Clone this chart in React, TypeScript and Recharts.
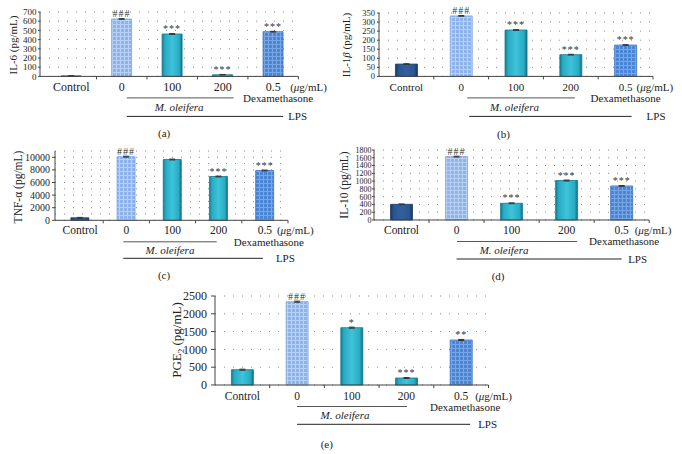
import React from "react";
import { BarChart, Bar, XAxis, YAxis, CartesianGrid, Cell, LabelList, ErrorBar } from "recharts";

const FONT = "'Liberation Serif', 'Times New Roman', serif";

const categories = ["Control", "0", "100", "200", "0.5"];

const il6Values = [5, 624, 461, 18, 486];
const il6Errors = [2, 4, 4, 3, 4];
const il6Marks = ["", "###", "***", "***", "***"];
const il6Ticks = [0, 100, 200, 300, 400, 500, 600, 700];

const il1bValues = [68, 334, 256, 120, 173];
const il1bErrors = [2, 2, 2, 2, 2];
const il1bMarks = ["", "###", "***", "***", "***"];
const il1bTicks = [0, 50, 100, 150, 200, 250, 300, 350];

const tnfValues = [400, 10100, 9650, 6950, 7900];
const tnfErrors = [60, 70, 70, 70, 70];
const tnfMarks = ["", "###", "", "***", "***"];
const tnfTicks = [0, 2000, 4000, 6000, 8000, 10000];
const tnfGrid = [0, 1000, 2000, 3000, 4000, 5000, 6000, 7000, 8000, 9000, 10000, 11000];

const il10Values = [403, 1630, 430, 1015, 875];
const il10Errors = [10, 10, 10, 12, 10];
const il10Marks = ["", "###", "***", "***", "***"];
const il10Ticks = [0, 200, 400, 600, 800, 1000, 1200, 1400, 1600, 1800];

const pge2Values = [430, 2340, 1610, 197, 1264];
const pge2Errors = [15, 15, 15, 12, 15];
const pge2Marks = ["", "###", "*", "***", "**"];
const pge2Ticks = [0, 500, 1000, 1500, 2000, 2500];

const fillsMain = ["navy", "light", "teal", "teal", "blue"];
const fillsPge2 = ["teal", "light", "teal", "teal", "blue"];

const strokes: Record<string, string> = {
  navy: "#1b3a66",
  light: "#7fa3dc",
  teal: "#137a8e",
  blue: "#3a70c0",
};

type Ann = {
  labelDy: number; l1y: number; l1from: number; l1to: number;
  dexDx: number; dexDy: number; moDx: number; moDy: number;
  lpsY: number; lpsFrom: number; lpsTo: number; lpsDx: number;
  unitDx: number; letDx: number; letDy: number;
};

type Panel = {
  id: string; letter: string; title: React.ReactNode;
  values: number[]; errors: number[]; marks: string[]; fills: string[];
  ticks: number[]; grid: number[]; max: number;
  axisX: number; padLeft: number; right: number; top: number; bottom: number;
  tickFont: number; tickSize: number; tickMargin: number; catFont: number;
  titleX: number; titleY: number; titleFont: number; ann: Ann;
};

const panels: Panel[] = [
  {
    id: "a", letter: "(a)", title: <>IL-6 (pg/mL)</>,
    values: il6Values, errors: il6Errors, marks: il6Marks, fills: fillsMain,
    ticks: il6Ticks, grid: il6Ticks, max: 700,
    axisX: 40, padLeft: 6, right: 298.4, top: 12.3, bottom: 76.7,
    tickFont: 9, tickSize: 2, tickMargin: 1.5, catFont: 12,
    titleX: 12.5, titleY: 44.5, titleFont: 11,
    ann: { labelDy: 10.5, l1y: 21.5, l1from: 5, l1to: 11, dexDx: 5, dexDy: 22, moDx: 7, moDy: 30.5, lpsY: 40, lpsFrom: 5, lpsTo: 10, lpsDx: 15, unitDx: 17, letDx: -8, letDy: 57 },
  },
  {
    id: "b", letter: "(b)", title: <>IL-1<i>β</i> (pg/mL)</>,
    values: il1bValues, errors: il1bErrors, marks: il1bMarks, fills: fillsMain,
    ticks: il1bTicks, grid: il1bTicks, max: 350,
    axisX: 378.5, padLeft: 0, right: 652.5, top: 13.3, bottom: 76.7,
    tickFont: 8.5, tickSize: 2, tickMargin: 2, catFont: 11,
    titleX: 345.5, titleY: 45, titleFont: 11,
    ann: { labelDy: 10.5, l1y: 21.5, l1from: 6, l1to: 4, dexDx: 0, dexDy: 21.5, moDx: -1.5, moDy: 31, lpsY: 40, lpsFrom: 8, lpsTo: 6, lpsDx: 21, unitDx: 11, letDx: -12.5, letDy: 58 },
  },
  {
    id: "c", letter: "(c)", title: <>TNF-α (pg/mL)</>,
    values: tnfValues, errors: tnfErrors, marks: tnfMarks, fills: fillsMain,
    ticks: tnfTicks, grid: tnfGrid, max: 11000,
    axisX: 55, padLeft: 2, right: 288, top: 151.2, bottom: 220.5,
    tickFont: 10, tickSize: 3, tickMargin: 2, catFont: 11.5,
    titleX: 19, titleY: 187, titleFont: 11.5,
    ann: { labelDy: 9.5, l1y: 21.5, l1from: -3, l1to: -2, dexDx: 4, dexDy: 22, moDx: -2.5, moDy: 30, lpsY: 38, lpsFrom: -3, lpsTo: -2, lpsDx: 11, unitDx: 12, letDx: -8.5, letDy: 55 },
  },
  {
    id: "d", letter: "(d)", title: <>IL-10 (pg/mL)</>,
    values: il10Values, errors: il10Errors, marks: il10Marks, fills: fillsMain,
    ticks: il10Ticks, grid: il10Ticks, max: 1800,
    axisX: 374.3, padLeft: 0, right: 649.5, top: 150, bottom: 220,
    tickFont: 8, tickSize: 2, tickMargin: 0.5, catFont: 11.5,
    titleX: 345, titleY: 185, titleFont: 11.5,
    ann: { labelDy: 10.5, l1y: 21.5, l1from: 0.5, l1to: 10.5, dexDx: 2.5, dexDy: 21.5, moDx: -7.5, moDy: 30, lpsY: 39, lpsFrom: 0, lpsTo: 0, lpsDx: 6.5, unitDx: 13, letDx: -13.5, letDy: 56.5 },
  },
  {
    id: "e", letter: "(e)", title: <>PGE<sub style={{ fontSize: "0.7em" }}>2</sub> (pg/mL)</>,
    values: pge2Values, errors: pge2Errors, marks: pge2Marks, fills: fillsPge2,
    ticks: pge2Ticks, grid: pge2Ticks, max: 2500,
    axisX: 215, padLeft: 0, right: 488.5, top: 296, bottom: 385,
    tickFont: 12, tickSize: 4, tickMargin: 4, catFont: 11.5,
    titleX: 178, titleY: 340, titleFont: 13,
    ann: { labelDy: 11, l1y: 21.5, l1from: 0, l1to: 0.5, dexDx: 4, dexDy: 21.5, moDx: -6.7, moDy: 30, lpsY: 39.3, lpsFrom: 0, lpsTo: 9, lpsDx: 17, unitDx: 14, letDx: -25, letDy: 59 },
  },
];

const Y_W = 40;
const M_TOP = 8;
const M_RIGHT = 40;
const X_H = 70;

function renderTick(props: any, p: Panel) {
  const { x, y, payload, index } = props;
  const band = (p.right - p.axisX - p.padLeft) / categories.length;
  const half = payload && payload.offset ? payload.offset : band / 2;
  const a = p.ann;
  const txt = { fontFamily: FONT, fill: "#222", dominantBaseline: "central" as const };
  const last = index === categories.length - 1;
  const x1 = x - 3 * band;
  const x2 = x - 2 * band;
  const x3 = x - band;
  return (
    <g style={{ fontFamily: FONT }}>
      <text x={x} y={y + a.labelDy} textAnchor="middle" fontSize={p.catFont} {...txt}>
        {payload.value}
      </text>
      {index > 0 && <line x1={x - half} x2={x - half} y1={y} y2={y + 3} stroke="#444" />}
      {last && (
        <g>
          <line x1={x + half} x2={x + half} y1={y} y2={y + 3} stroke="#444" />
          <text x={x + a.unitDx} y={y + a.labelDy} textAnchor="start" fontSize={11} {...txt}>
            (<tspan fontStyle="italic">μ</tspan>g/mL)
          </text>
          <line x1={x1 + a.l1from} x2={x3 + a.l1to} y1={y + a.l1y} y2={y + a.l1y} stroke="#555" />
          <text x={x + a.dexDx} y={y + a.dexDy} textAnchor="middle" fontSize={11} {...txt}>
            Dexamethasone
          </text>
          <text x={x2 + a.moDx} y={y + a.moDy} textAnchor="middle" fontSize={11} fontStyle="italic" {...txt}>
            M. oleifera
          </text>
          <line x1={x1 + a.lpsFrom} x2={x + a.lpsTo} y1={y + a.lpsY} y2={y + a.lpsY} stroke="#222" />
          <text x={x + a.lpsDx} y={y + a.lpsY} textAnchor="start" fontSize={11} {...txt}>
            LPS
          </text>
          <text x={x2 + a.letDx} y={y + a.letDy} textAnchor="middle" fontSize={11} {...txt}>
            {p.letter}
          </text>
        </g>
      )}
    </g>
  );
}

function PanelChart({ p }: { p: Panel }) {
  const left = p.axisX - Y_W;
  const topPx = p.top - M_TOP;
  const width = p.right - left + M_RIGHT;
  const height = p.bottom - topPx + X_H;
  const rows = categories.map((c, i) => ({
    cat: c,
    v: p.values[i],
    err: p.errors[i],
    mark: p.marks[i],
  }));
  const pid = (k: string) => `${p.id}-${k}`;
  return (
    <>
      <div style={{ position: "absolute", left, top: topPx }}>
        <BarChart
          width={width}
          height={height}
          data={rows}
          margin={{ top: M_TOP, right: M_RIGHT, bottom: 0, left: 0 }}
          barCategoryGap="30%"
        >
          <defs>
            <linearGradient id={pid("teal")} x1="0" y1="0" x2="1" y2="0">
              <stop offset="0" stopColor="#137c92" />
              <stop offset="0.14" stopColor="#29abc3" />
              <stop offset="0.5" stopColor="#3dc3da" />
              <stop offset="0.86" stopColor="#29abc3" />
              <stop offset="1" stopColor="#116d82" />
            </linearGradient>
            <linearGradient id={pid("navy")} x1="0" y1="0" x2="1" y2="0">
              <stop offset="0" stopColor="#1a3764" />
              <stop offset="0.15" stopColor="#2a5791" />
              <stop offset="0.5" stopColor="#32609d" />
              <stop offset="0.85" stopColor="#2a5791" />
              <stop offset="1" stopColor="#193562" />
            </linearGradient>
            <pattern id={pid("light")} width="4" height="4" patternUnits="userSpaceOnUse">
              <rect width="4" height="4" fill="#8db3ea" />
              <path d="M0 0.5H4M0.5 0V4" stroke="#b9d1f4" strokeWidth="1" />
            </pattern>
            <pattern id={pid("blue")} width="4" height="4" patternUnits="userSpaceOnUse">
              <rect width="4" height="4" fill="#4a85d6" />
              <path d="M0 0.5H4M0.5 0V4" stroke="#79a6e4" strokeWidth="1" />
            </pattern>
          </defs>
          <CartesianGrid
            vertical={false}
            horizontalValues={p.grid}
            stroke="#8a8a8a"
            strokeDasharray="1 8"
          />
          <XAxis
            dataKey="cat"
            interval={0}
            height={X_H}
            padding={{ left: p.padLeft, right: 0 }}
            axisLine={{ stroke: "#444" }}
            tickLine={false}
            tickSize={0}
            tickMargin={0}
            tick={(tp: any) => renderTick(tp, p)}
          />
          <YAxis
            type="number"
            domain={[0, p.max]}
            ticks={p.ticks}
            interval={0}
            width={Y_W}
            axisLine={{ stroke: "#444" }}
            tickLine={{ stroke: "#444" }}
            tickSize={p.tickSize}
            tickMargin={p.tickMargin}
            tick={{ fontSize: p.tickFont, fill: "#222", fontFamily: FONT }}
          />
          <Bar dataKey="v" isAnimationActive={false}>
            {rows.map((_, i) => (
              <Cell
                key={i}
                fill={`url(#${pid(p.fills[i])})`}
                stroke={strokes[p.fills[i]]}
                strokeWidth={0.8}
              />
            ))}
            <ErrorBar dataKey="err" width={3} stroke="#333" strokeWidth={1} />
            <LabelList
              dataKey="mark"
              position="top"
              offset={2}
              fontSize={10}
              fill="#333"
              fontFamily={FONT}
              style={{ letterSpacing: 1 }}
            />
          </Bar>
        </BarChart>
      </div>
      <div
        style={{
          position: "absolute",
          left: p.titleX,
          top: p.titleY,
          transform: "translate(-50%, -50%) rotate(-90deg)",
          whiteSpace: "nowrap",
          fontSize: p.titleFont,
          lineHeight: 1,
          color: "#222",
          fontFamily: FONT,
        }}
      >
        {p.title}
      </div>
    </>
  );
}

export default function App() {
  return (
    <div
      style={{
        position: "absolute",
        left: 0,
        top: 0,
        width: 682,
        height: 454,
        overflow: "hidden",
        background: "#fff",
        fontFamily: FONT,
      }}
    >
      {panels.map((p) => (
        <PanelChart key={p.id} p={p} />
      ))}
    </div>
  );
}
